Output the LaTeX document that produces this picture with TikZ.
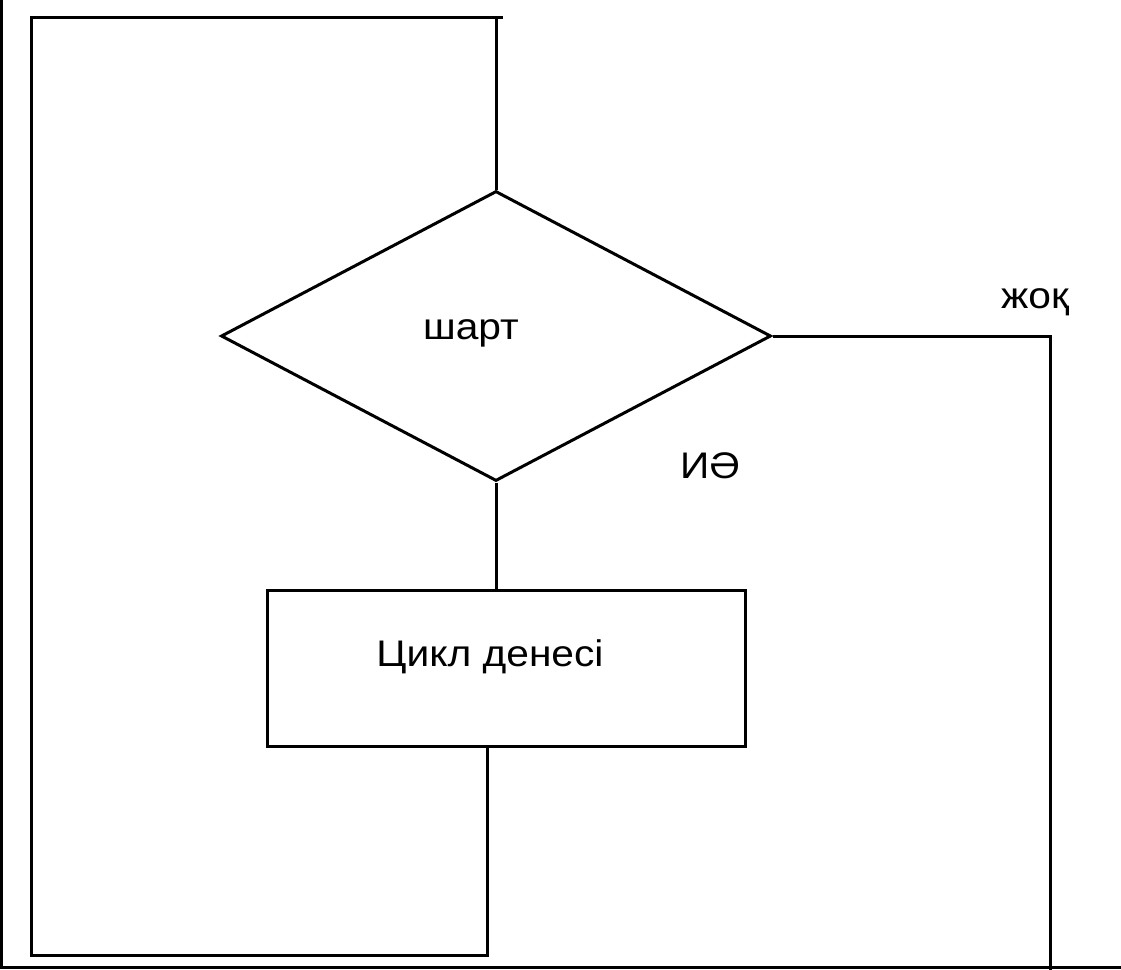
\documentclass[tikz,border=0pt]{standalone}
\usepackage{fontspec}
\setmainfont{Liberation Sans}
\usetikzlibrary{shapes.geometric}
\begin{document}
\begin{tikzpicture}[x=1pt,y=-1pt,
  line/.style={line width=3pt,black},
  lbl/.style={anchor=base,inner sep=0pt,xscale=1.1,font=\fontsize{37}{42}\selectfont},
  decision/.style={diamond,draw,line width=3pt,inner sep=0pt,minimum width=550pt,minimum height=290pt},
  bodybox/.style={rectangle,draw,line width=3pt,inner sep=0pt,minimum width=478pt,minimum height=156pt}]
\useasboundingbox (0,0) rectangle (1121,969);
\fill[white] (0,0) rectangle (1121,969);
\fill[black] (0,0) rectangle (2.5,969);
\fill[black] (0,966) rectangle (1121,969);
% shapes
\node[decision] (cond) at (496,336) {};
\node[bodybox] (body) at (506,668) {};
% texts
\node[lbl] (tcond) at (471,339) {шарт};
\node[lbl] (tbody) at (490,666) {Цикл денесі};
\node[lbl] (tno) at (1035,308) {жоқ};
\node[lbl] (tyes) at (710,478) {ИӘ};
% coordinates
\coordinate (b1) at (487,746);
\coordinate (b2) at (487,955);
\coordinate (b3) at (31,955);
\coordinate (b4) at (31,17);
\coordinate (b5) at (503,17);
\coordinate (r1) at (1050,339);
\coordinate (r2) at (1050,972);
% connectors
\draw[line] (cond.south) -- (cond.south |- body.north);
\draw[line] (body.south -| b1) -- (b2) -- (b3) -- (b4) -- (b5);
\draw[line] (cond.north |- b4) -- (cond.north);
\draw[line] (cond.east) -- (cond.east -| r1) -- (r2);
\end{tikzpicture}
\end{document}
